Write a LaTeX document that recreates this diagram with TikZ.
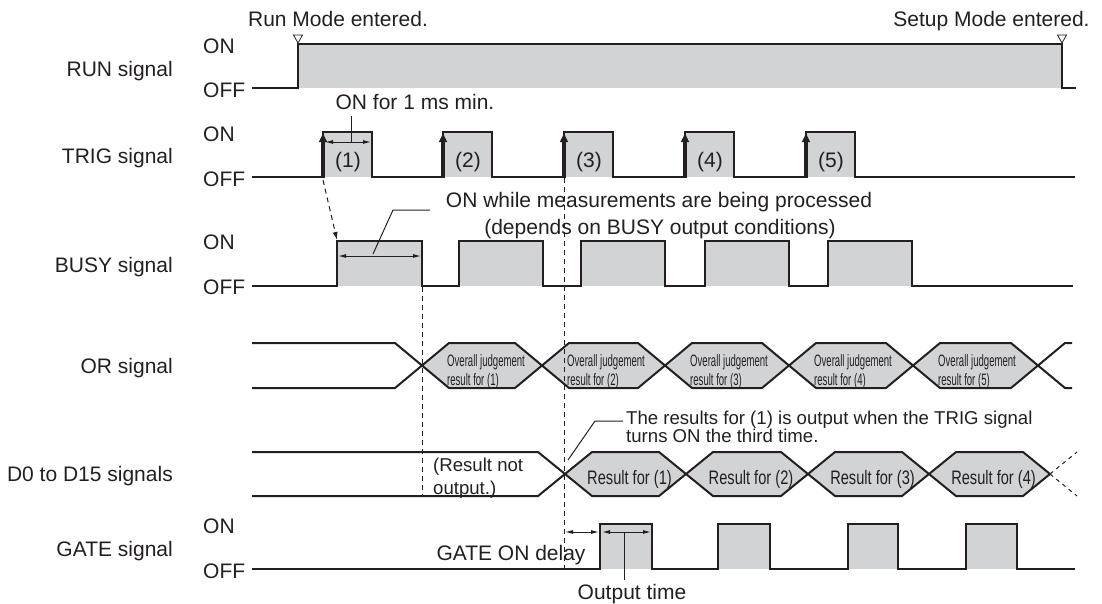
\documentclass[tikz,border=0pt]{standalone}
\usepackage{fontspec}
\setmainfont{Liberation Sans}
\newfontfamily\ojf[FakeStretch=0.58]{Liberation Sans}
\newfontfamily\rsf[FakeStretch=0.75]{Liberation Sans}
\usetikzlibrary{arrows.meta}
\definecolor{ink}{HTML}{231F20}
\definecolor{gfill}{HTML}{D1D3D4}
\begin{document}
\begin{tikzpicture}[x=1pt,y=-1pt,
  every node/.style={inner sep=0pt, text=ink, font=\fontsize{21}{25}\selectfont},
  sig/.style={draw=ink, line width=2pt, line join=miter},
  wave/.style={sig, fill=gfill},
  lead/.style={draw=ink, line width=1pt},
  dimarrow/.style={draw=ink, line width=1pt, {Latex[length=8pt,width=4pt]}-{Latex[length=8pt,width=4pt]}},
  vdash/.style={draw=ink, line width=1pt, dash pattern=on 5pt off 4pt},
  trigarrow/.style={draw=ink, line width=3.3pt, -{Latex[length=10pt,width=9pt]}},
  marker/.style={draw=ink, fill=white, line width=0.8pt, line join=miter},
  sname/.style={anchor=base east},
  slevel/.style={anchor=base west},
  ojfont/.style={font=\ojf\fontsize{16.5}{18}\selectfont},
  rfont/.style={font=\rsf\fontsize{19.5}{22}\selectfont},
  smallt/.style={font=\fontsize{18.6}{22}\selectfont},
]
\path[use as bounding box] (0,0) rectangle (1102,603);

% ---------------- RUN ----------------
\fill[gfill] (298,44) rectangle (1062,88);
\draw[sig] (252,88) -- (298,88) -- (298,44) -- (1062,44) -- (1062,88) -- (1076,88);
\draw[marker] (298,43) -- (293.5,35) -- (302.5,35) -- cycle;
\draw[marker] (1062,43) -- (1057.5,35) -- (1066.5,35) -- cycle;
\node[anchor=base] (runmode) at (338,26) {Run Mode entered.};
\node[anchor=base] (setupmode) at (991.5,26) {Setup Mode entered.};
\node[sname] (nrun) at (173,76) {RUN signal};
\node[slevel] (runon) at (203,53) {ON};
\node[slevel] (runoff) at (203,97) {OFF};

% ---------------- TRIG ----------------
\foreach \r in {323,443,564,685,806} \fill[gfill] (\r,132) rectangle ({\r+49},177);
\draw[sig] (252,177) foreach \r in {323,443,564,685,806} { -- (\r,177) -- (\r,132) -- ({\r+49},132) -- ({\r+49},177) } -- (1075,177);
\foreach \r in {323,443,564,685,806} \draw[trigarrow] (\r,178) -- (\r,132);
\foreach \r/\n in {323/1,443/2,564/3,685/4,806/5} \node[anchor=base] (tl\n) at ({\r+25},167) {(\n)};
\node[sname] (ntrig) at (173,163) {TRIG signal};
\node[slevel] (trigon) at (203,141) {ON};
\node[slevel] (trigoff) at (203,186) {OFF};
\node[anchor=base] (onmin) at (415,109) {ON for 1 ms min.};
\coordinate (onminfoot) at (351,116);
\coordinate (onminarr) at (351,142);
\draw[lead] (onminfoot) -- (onminarr);
\coordinate (p1l) at (325,142);
\coordinate (p1r) at (371,142);
\draw[dimarrow] (p1l) -- (p1r);

% ---------------- BUSY ----------------
\foreach \a/\b in {337/422,459/543,581/665,705/789,828/912} \fill[gfill] (\a,241) rectangle (\b,286);
\draw[sig] (252,286) foreach \a/\b in {337/422,459/543,581/665,705/789,828/912} { -- (\a,286) -- (\a,241) -- (\b,241) -- (\b,286) } -- (1073,286);
\node[sname] (nbusy) at (173,272) {BUSY signal};
\node[slevel] (busyon) at (203,249.5) {ON};
\node[slevel] (busyoff) at (203,294.5) {OFF};
\coordinate (trigrise) at (323,180);
\coordinate (busyrise) at (337,240);
\draw[vdash, -{Latex[length=8pt,width=5pt]}] (trigrise) -- (busyrise);
\coordinate (b1l) at (338,256);
\coordinate (b1r) at (421,256);
\draw[dimarrow] (b1l) -- (b1r);
\node[anchor=base] (busytxta) at (659,207.5) {ON while measurements are being processed};
\node[anchor=base] (busytxtb) at (660,234) {(depends on BUSY output conditions)};
\coordinate (bl1) at (373,254);
\coordinate (bl2) at (393,210);
\coordinate (bl3) at (430,210);
\draw[lead] (bl1) -- (bl2) -- (bl3);

% ---------------- OR ----------------
\draw[sig] (252,343) -- (395,343) -- (422,365.5) -- (395,388) -- (252,388);
\foreach \a/\b/\n in {422/542/1,542/665/2,665/789/3,789/913/4,913/1038/5} {
  \filldraw[wave] (\a,365.5) -- ({\a+27},343) -- ({\b-27},343) -- (\b,365.5) -- ({\b-27},388) -- ({\a+27},388) -- cycle;
  \node[ojfont, anchor=base west] (oja\n) at ({\a+25},366.5) {Overall judgement};
  \node[ojfont, anchor=base west] (ojb\n) at ({\a+25},385) {result for (\n)};
}
\draw[sig] (1072,343) -- (1065,343) -- (1038,365.5) -- (1065,388) -- (1072,388);
\node[sname] (nor) at (173,373) {OR signal};

% ---------------- D0 to D15 ----------------
\draw[sig] (252,452) -- (538,452) -- (565,474) -- (538,496) -- (252,496);
\foreach \a/\b/\n in {565/686/1,686/808/2,808/929/3,929/1050/4} {
  \filldraw[wave] (\a,474) -- ({\a+27},452) -- ({\b-27},452) -- (\b,474) -- ({\b-27},496) -- ({\a+27},496) -- cycle;
  \node[rfont, anchor=base] (res\n) at ({(\a+\b)/2+4},484) {Result for (\n)};
}
\coordinate (dend) at (1050,474);
\coordinate (dup) at (1077,452);
\coordinate (ddown) at (1077,496);
\draw[vdash, dash pattern=on 4pt off 4pt] (dend) -- (dup);
\draw[vdash, dash pattern=on 4pt off 4pt] (dend) -- (ddown);
\node[sname] (nd) at (173,481) {D0 to D15 signals};
\node[smallt, anchor=base west] (rn1) at (433,471.5) {(Result not};
\node[smallt, anchor=base west] (rn2) at (433,494) {output.)};
\node[smallt, anchor=base west] (rt1) at (626,424) {The results for (1) is output when the TRIG signal};
\node[smallt, anchor=base west] (rt2) at (626,442) {turns ON the third time.};
\coordinate (dl1) at (568,460);
\coordinate (dl2) at (595,421);
\coordinate (dl3) at (623,421);
\draw[lead] (dl1) -- (dl2) -- (dl3);

% ---------------- GATE ----------------
\foreach \a/\b in {600/652,718/770,848/898,966/1017} \fill[gfill] (\a,524) rectangle (\b,569);
\draw[sig] (252,569) foreach \a/\b in {600/652,718/770,848/898,966/1017} { -- (\a,569) -- (\a,524) -- (\b,524) -- (\b,569) } -- (1075,569);
\node[sname] (ngate) at (173,556) {GATE signal};
\node[slevel] (gateon) at (203,533) {ON};
\node[slevel] (gateoff) at (203,578) {OFF};
\coordinate (gd1) at (565,532);
\coordinate (gd2) at (599,532);
\draw[dimarrow] (gd1) -- (gd2);
\coordinate (go1) at (602,532);
\coordinate (go2) at (651,532);
\draw[dimarrow] (go1) -- (go2);
\node[anchor=base] (gdelay) at (511,560) {GATE ON delay};
\node[anchor=base] (outt) at (632,599) {Output time};
\coordinate (otop) at (624,532);
\coordinate (obot) at (624,580);
\draw[lead] (otop) -- (obot);

% ---------------- dashed guides ----------------
\draw[vdash] (422,287) -- (422,496);
\draw[vdash] (564,178) -- (564,569);
\end{tikzpicture}
\end{document}
